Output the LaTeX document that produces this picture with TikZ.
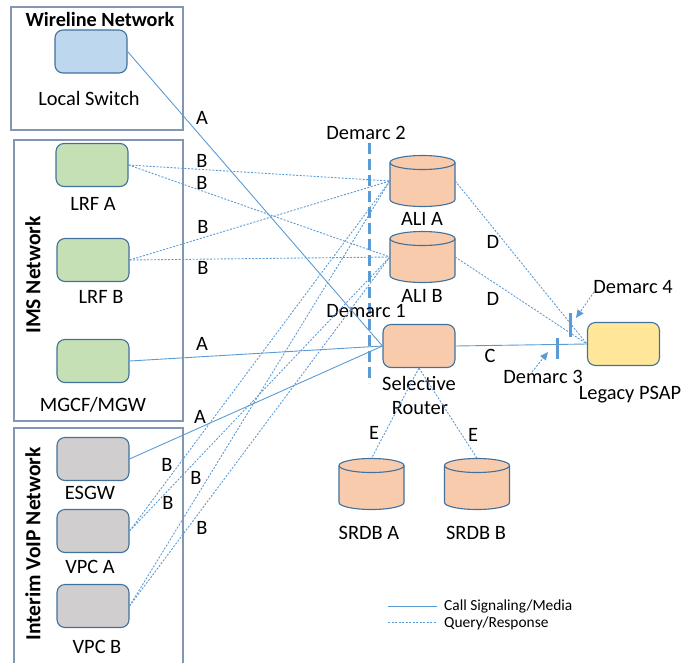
\documentclass[tikz,border=0pt]{standalone}
\usepackage{fontspec}
\setmainfont{Carlito}
\usetikzlibrary{arrows.meta}
\definecolor{lineblue}{HTML}{5B9BD5}
\definecolor{nodeborder}{HTML}{41719C}
\definecolor{groupborder}{HTML}{8497B0}
\definecolor{bluefill}{HTML}{BDD7EE}
\definecolor{greenfill}{HTML}{C5E0B4}
\definecolor{grayfill}{HTML}{D0CECE}
\definecolor{orangefill}{HTML}{F8CBAD}
\definecolor{yellowfill}{HTML}{FFE699}
\newcommand{\drumat}[3]{%
  \node[cylnode] (#1) at (#2,#3) {};
  \path[cylpath] (#2-32.5,#3-18.5) -- (#2-32.5,#3+18.5)
    arc[start angle=180,end angle=360,x radius=32.5pt,y radius=7pt]
    -- (#2+32.5,#3-18.5)
    arc[start angle=0,end angle=180,x radius=32.5pt,y radius=7pt] -- cycle;
  \draw[cylpath, fill=none] (#2-32.5,#3-18.5)
    arc[start angle=180,end angle=360,x radius=32.5pt,y radius=7pt];
}
\begin{document}
\begin{tikzpicture}[x=1pt,y=-1pt,
  every node/.style={font=\fontsize{20.4}{23}\selectfont, inner sep=0pt},
  grp/.style={draw=groupborder, line width=1.6pt},
  dev/.style={draw=nodeborder, line width=1.1pt, rounded corners=8pt, minimum width=72pt, minimum height=43pt},
  cylnode/.style={minimum width=65pt, minimum height=51pt},
  cylpath/.style={draw=nodeborder, line width=1.1pt, fill=orangefill},
  sig/.style={draw=lineblue, line width=0.9pt},
  qry/.style={draw=lineblue, line width=0.9pt, dash pattern=on 2pt off 1.5pt},
  title/.style={font=\bfseries\fontsize{20.2}{24}\selectfont},
  vtitle/.style={font=\bfseries\fontsize{21.5}{24}\selectfont, rotate=90},
  demarc/.style={draw=lineblue, line width=3pt},
  legtext/.style={font=\fontsize{15.4}{18}\selectfont, anchor=west},
]
\useasboundingbox (0,0) rectangle (683,662);

% group boxes
\draw[grp] (11,7) rectangle (183,130);
\node[title] (wltitle) at (100,19) {Wireline Network};
\draw[grp] (14,140) rectangle (183,421);
\node[vtitle] (imstitle) at (33,275) {IMS Network};
\draw[grp] (14,428) rectangle (183,680);
\node[vtitle] (voiptitle) at (33,544) {Interim VoIP Network};

% left devices
\node[dev, fill=bluefill] (ls) at (91,51.5) {};
\node (lslbl) at (89,98) {Local Switch};
\node[dev, fill=greenfill] (lrfa) at (92,165) {};
\node (lrfalbl) at (93,204) {LRF A};
\node[dev, fill=greenfill] (lrfb) at (93,260) {};
\node (lrfblbl) at (101,297) {LRF B};
\node[dev, fill=greenfill] (mgcf) at (93,361) {};
\node (mgcflbl) at (93,405) {MGCF/MGW};
\node[dev, fill=grayfill] (esgw) at (93,459) {};
\node (esgwlbl) at (90,493) {ESGW};
\node[dev, fill=grayfill] (vpca) at (93,531) {};
\node (vpcalbl) at (90,567) {VPC A};
\node[dev, fill=grayfill] (vpcb) at (93,606) {};
\node (vpcblbl) at (97,647) {VPC B};

% right devices
\drumat{alia}{422.5}{181}
\node (alialbl) at (422,219) {ALI A};
\drumat{alib}{422.5}{257}
\node (aliblbl) at (422,296) {ALI B};
\node[dev, fill=orangefill] (sr) at (419,346) {};
\node (srlbl1) at (419,383) {Selective};
\node (srlbl2) at (420,408) {Router};
\drumat{srdba}{371.5}{484}
\node (srdbalbl) at (369,533) {SRDB A};
\drumat{srdbb}{477}{484}
\node (srdbblbl) at (476,533) {SRDB B};
\node[dev, fill=yellowfill] (psap) at (623.5,344) {};
\node (psaplbl) at (630,395) {Legacy PSAP};

% demarcs
\node (d2lbl) at (366,133) {Demarc 2};
\coordinate (d2top) at (369,143);
\coordinate (d2bot) at (369,383);
\draw[demarc, dash pattern=on 11pt off 5pt] (d2top) -- (d2bot);
\node (d1lbl) at (366,311) {Demarc 1};
\node (d4lbl) at (633,287) {Demarc 4};
\node (d3lbl) at (543,377) {Demarc 3};
\coordinate (d4t) at (570,313);
\coordinate (d4b) at (570,337);
\draw[demarc] (d4t) -- (d4b);
\coordinate (d3t) at (557,338);
\coordinate (d3b) at (557,359);
\draw[demarc] (d3t) -- (d3b);
\coordinate (d4from) at (594,292);
\coordinate (d4to) at (576,318);
\draw[qry, -{Triangle[length=8pt,width=7pt]}] (d4from) -- (d4to);
\coordinate (d3from) at (532,372);
\coordinate (d3to) at (548,352);
\draw[qry, -{Triangle[length=8pt,width=7pt]}] (d3from) -- (d3to);

% signaling (A, C)
\draw[sig] (ls.east) -- (sr.west);
\draw[sig] (mgcf.east) -- (sr.west);
\draw[sig] (esgw.east) -- (sr.west);
\draw[sig] (sr.east) -- (psap.west);
\node (la1) at (202,118) {A};
\node (la2) at (202,344) {A};
\node (la3) at (200,417) {A};
\node (lc) at (490,356) {C};

% query (B, D, E)
\draw[qry] (lrfa.east) -- (alia.west);
\draw[qry] (lrfa.east) -- (alib.west);
\draw[qry] (lrfb.east) -- (alia.west);
\draw[qry] (lrfb.east) -- (alib.west);
\draw[qry] (vpca.east) -- (alia.west);
\draw[qry] (vpca.east) -- (alib.west);
\draw[qry] (vpcb.east) -- (alia.west);
\draw[qry] (vpcb.east) -- (alib.west);
\node (lb1) at (202,161) {B};
\node (lb2) at (202,183) {B};
\node (lb3) at (203,227) {B};
\node (lb4) at (203,268) {B};
\node (lb5) at (167,465) {B};
\node (lb6) at (196,478) {B};
\node (lb7) at (168,503) {B};
\node (lb8) at (202,528) {B};
\draw[qry] (alia.east) -- (psap.west);
\draw[qry] (alib.east) -- (psap.west);
\node (ld1) at (493,242) {D};
\node (ld2) at (493,299) {D};
\draw[qry] (sr.south) -- (srdba.north);
\draw[qry] (sr.south) -- (srdbb.north);
\node (le1) at (374,433) {E};
\node (le2) at (473,435) {E};

% legend
\coordinate (lg1a) at (388,606);
\coordinate (lg1b) at (437,606);
\draw[sig] (lg1a) -- (lg1b);
\node[legtext] (lg1t) at (444,606) {Call Signaling/Media};
\coordinate (lg2a) at (388,622);
\coordinate (lg2b) at (437,622);
\draw[qry] (lg2a) -- (lg2b);
\node[legtext] (lg2t) at (444,623) {Query/Response};
\end{tikzpicture}
\end{document}
